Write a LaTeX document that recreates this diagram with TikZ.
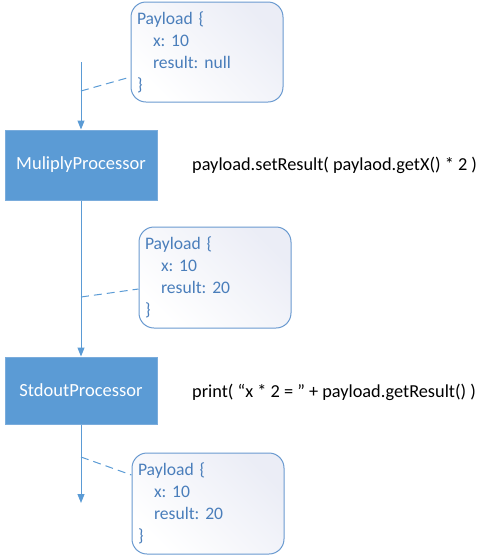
\documentclass[tikz,border=0pt]{standalone}
\usepackage{fontspec}
\setmainfont{Carlito}
\frenchspacing
\usetikzlibrary{arrows.meta}
\definecolor{boxblue}{HTML}{5B9BD5}
\definecolor{boxedge}{HTML}{7AACDC}
\definecolor{flowline}{HTML}{5B9BD5}
\definecolor{bubedge}{HTML}{6A9AD0}
\definecolor{bubtext}{HTML}{4A7EBB}
\definecolor{bubshade}{HTML}{EBEDF6}
\tikzset{
  procbox/.style={draw=boxedge, line width=1pt, fill=boxblue, text=white,
    minimum width=152pt, inner sep=0pt, font=\fontsize{18.5}{20}\selectfont},
  bubble/.style={draw=bubedge, line width=1pt, rounded corners=15pt,
    left color=white, right color=bubshade, shading angle=135,
    minimum width=152pt, text width=140pt, inner sep=6pt, align=left,
    text=bubtext, font=\fontsize{17.6}{22}\selectfont\frenchspacing},
  flow/.style={draw=flowline, line width=1pt},
  flowarrow/.style={flow, -{Triangle[width=7pt,length=9pt]}},
  dashlink/.style={draw=flowline, line width=1pt, dash pattern=on 8pt off 5pt},
  code/.style={anchor=west, inner sep=0pt, text=black, font=\fontsize{18.3}{20}\selectfont\frenchspacing}
}
\begin{document}
\begin{tikzpicture}[x=1pt,y=-1pt]
\useasboundingbox (0,0) rectangle (492,558);
% processors
\node[procbox, minimum height=70pt] (mul) at (81,165) {MuliplyProcessor};
\node[procbox, minimum height=67pt] (std) at (81,390.5) {StdoutProcessor};
% code labels
\node[code] (c1) at (192,165) {payload.setResult( paylaod.getX() * 2 )};
\node[code] (c2) at (192,392) {print( “x * 2 = ” + payload.getResult() )};
% payload bubbles
\node[bubble, minimum height=100pt] (b1) at (207,52) {Payload \{\\\hspace*{16pt}x: 10\\\hspace*{16pt}result: null\\\}};
\node[bubble, minimum height=101pt] (b2) at (215,277.5) {Payload \{\\\hspace*{16pt}x: 10\\\hspace*{16pt}result: 20\\\}};
\node[bubble, minimum height=101pt] (b3) at (208,503.5) {Payload \{\\\hspace*{16pt}x: 10\\\hspace*{16pt}result: 20\\\}};
% flow
\coordinate (start) at (81,62);
\coordinate (finish) at (81,503);
\draw[flowarrow] (start) -- (mul.north);
\draw[flowarrow] (mul.south) -- (std.north);
\draw[flowarrow] (std.south) -- (finish);
% dashed links
\coordinate (d1) at (81,91);
\coordinate (d2) at (81,297);
\coordinate (d3) at (81,457);
\draw[dashlink] (d1) -- ([yshift=-25pt]b1.west);
\draw[dashlink] (d2) -- ([yshift=-11.5pt]b2.west);
\draw[dashlink] (d3) -- ([yshift=28.5pt]b3.west);
\end{tikzpicture}
\end{document}
